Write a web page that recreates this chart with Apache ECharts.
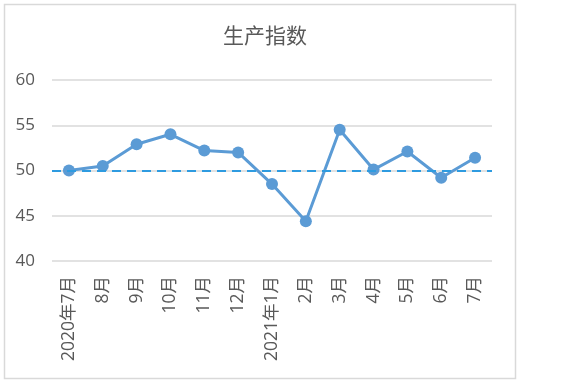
<!DOCTYPE html>
<html><head><meta charset="utf-8">
<script src="https://cdn.jsdelivr.net/npm/echarts@6/dist/echarts.min.js"></script>
<style>html,body{margin:0;padding:0;background:#fff}#c{width:580px;height:384px}</style>
</head><body><div id="c"></div>
<script>
const titleText = "生产指数";
const categories = ["2020年7月","8月","9月","10月","11月","12月","2021年1月","2月","3月","4月","5月","6月","7月"];
const values = [50.0, 50.5, 52.9, 54.0, 52.2, 52.0, 48.5, 44.4, 54.5, 50.1, 52.1, 49.2, 51.4];
const referenceValue = 50;
const yTicks = {min: 40, max: 60, interval: 5};

const font = '"Open Sans", "Noto Sans CJK SC", sans-serif';
const chart = echarts.init(document.getElementById('c'), null, {renderer: 'canvas'});
chart.setOption({
  animation: false,
  backgroundColor: '#fff',
  graphic: [{type: 'rect', shape: {x: 4.5, y: 4.5, width: 511, height: 374}, style: {fill: 'none', stroke: '#d9d9d9', lineWidth: 1.5}, z: -1}],
  title: {text: titleText, left: 260, top: 22, textAlign: 'center',
    textStyle: {fontFamily: font, fontSize: 21, fontWeight: 'normal', color: '#595959'}},
  grid: {left: 52, right: 88, top: 80, bottom: 123, containLabel: false},
  xAxis: {type: 'category', data: categories, boundaryGap: true,
    axisLine: {show: false}, axisTick: {show: false},
    axisLabel: {rotate: 90, margin: 15, color: '#595959', fontSize: 17.5, fontFamily: font, interval: 0}},
  yAxis: {type: 'value', min: yTicks.min, max: yTicks.max, interval: yTicks.interval,
    axisLine: {show: false}, axisTick: {show: false},
    axisLabel: {margin: 17, color: '#595959', fontSize: 17, fontFamily: font},
    splitLine: {lineStyle: {color: '#d9d9d9', width: 1.5}}},
  series: [{type: 'line', data: values, symbol: 'circle', symbolSize: 12,
    lineStyle: {color: '#5b9bd5', width: 3}, itemStyle: {color: '#5b9bd5'},
    markLine: {silent: true, symbol: 'none', label: {show: false},
      lineStyle: {color: '#2e9be0', type: [9, 6], width: 2.2},
      data: [{yAxis: referenceValue}]}}]
});
</script></body></html>
